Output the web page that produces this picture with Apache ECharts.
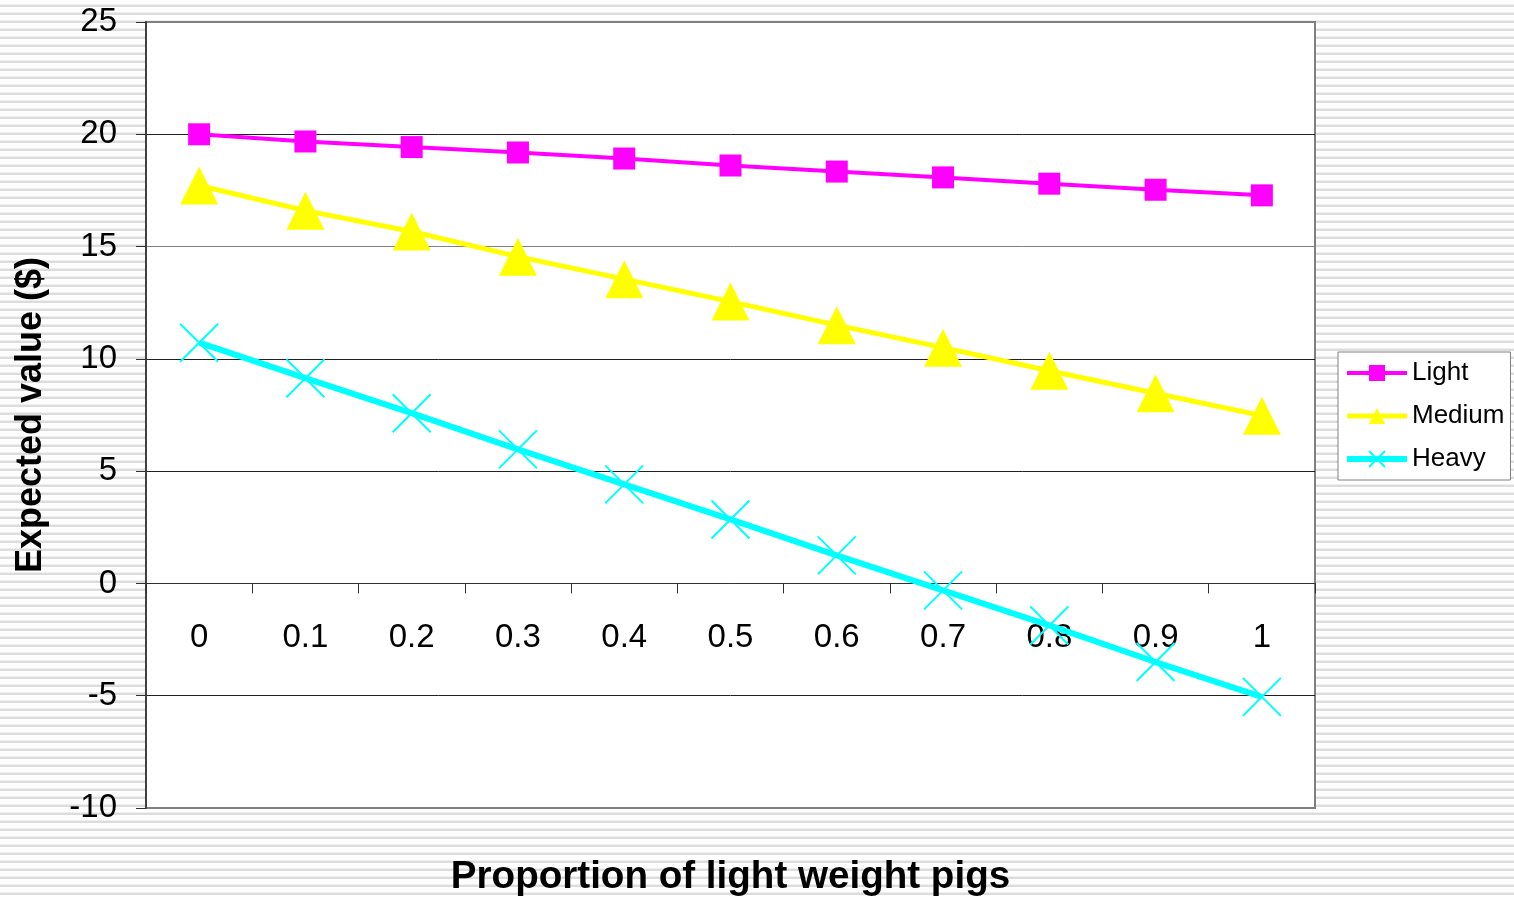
<!DOCTYPE html>
<html>
<head>
<meta charset="utf-8">
<script src="https://cdn.jsdelivr.net/npm/echarts@6/dist/echarts.min.js"></script>
<style>
html,body{margin:0;padding:0;}
body{background:repeating-linear-gradient(to bottom,#ffffff 0px,#ffffff 4px,#efefef 4px,#efefef 5px,#dcdcdc 5px,#dcdcdc 7px,#ffffff 7px,#ffffff 8px);}
#chart{width:1514px;height:899px;}
</style>
</head>
<body>
<div id="chart"></div>
<script>
const categories = ['0','0.1','0.2','0.3','0.4','0.5','0.6','0.7','0.8','0.9','1'];
const lightValues  = [20.0, 19.68, 19.43, 19.19, 18.92, 18.61, 18.34, 18.08, 17.8, 17.53, 17.28];
const mediumValues = [17.72, 16.6, 15.67, 14.55, 13.55, 12.55, 11.5, 10.5, 9.47, 8.47, 7.47];
const heavyValues  = [10.72, 9.14, 7.58, 5.97, 4.41, 2.85, 1.25, -0.31, -1.87, -3.5, -5.05];
const seriesNames = ['Light', 'Medium', 'Heavy'];
const xTitle = 'Proportion of light weight pigs';
const yTitle = 'Expected value ($)';

const FONT = '"Liberation Sans", Arial, sans-serif';
const chart = echarts.init(document.getElementById('chart'), null, {renderer: 'canvas'});
chart.setOption({
  animation: false,
  backgroundColor: 'transparent',
  textStyle: {fontFamily: FONT, color: '#000'},
  grid: {
    left: 146, top: 22, right: 199, bottom: 91,
    containLabel: false,
    outerBoundsMode: 'none',
    show: true, backgroundColor: '#ffffff', borderColor: '#808080', borderWidth: 2
  },
  legend: {
    orient: 'vertical',
    left: 1338, top: 352,
    padding: [6, 6, 6, 6],
    backgroundColor: '#ffffff',
    borderColor: '#808080', borderWidth: 1, borderRadius: 0,
    itemWidth: 60, itemHeight: 20, itemGap: 13,
    lineStyle: {width: 'inherit'},
    textStyle: {fontFamily: FONT, fontSize: 26, color: '#000', lineHeight: 30},
    data: seriesNames
  },
  xAxis: {
    type: 'category',
    data: categories,
    boundaryGap: true,
    name: xTitle,
    nameLocation: 'middle',
    nameGap: 50,
    nameTextStyle: {fontFamily: FONT, fontSize: 38.6, fontWeight: 'bold', color: '#000'},
    axisLine: {onZero: true, lineStyle: {color: '#303030', width: 1}},
    axisTick: {show: true, inside: false, length: 10, interval: 0, alignWithLabel: false, lineStyle: {color: '#303030'}},
    axisLabel: {fontFamily: FONT, fontSize: 33, color: '#000', margin: -187, interval: 0},
    splitLine: {show: false}
  },
  yAxis: {
    type: 'value',
    min: -10, max: 25, interval: 5,
    name: yTitle,
    nameLocation: 'middle',
    nameRotate: 90,
    nameGap: 97,
    nameTextStyle: {fontFamily: FONT, fontSize: 36, fontWeight: 'bold', color: '#000'},
    axisLine: {show: true, lineStyle: {color: '#404040', width: 2}},
    axisTick: {show: true, inside: false, length: 10, lineStyle: {color: '#303030'}},
    axisLabel: {fontFamily: FONT, fontSize: 33, color: '#000', margin: 29},
    splitLine: {show: true, lineStyle: {color: ['#808080', '#202020', '#202020', '#202020', '#202020', '#808080', '#202020', '#808080'], width: 1}}
  },
  series: [
    {
      name: seriesNames[0], type: 'line', data: lightValues,
      symbol: 'rect', symbolSize: 22,
      lineStyle: {color: '#FF00FF', width: 4},
      itemStyle: {color: '#FF00FF'}
    },
    {
      name: seriesNames[1], type: 'line', data: mediumValues,
      symbol: 'triangle', symbolSize: 38,
      lineStyle: {color: '#FFFF00', width: 5},
      itemStyle: {color: '#FFFF00'}
    },
    {
      name: seriesNames[2], type: 'line', data: heavyValues,
      symbol: 'path://M0,0L10,10M10,0L0,10', symbolSize: 38,
      lineStyle: {color: '#00FFFF', width: 6},
      itemStyle: {color: '#00FFFF', borderColor: '#00FFFF', borderWidth: 2}
    }
  ]
});
</script>
</body>
</html>
